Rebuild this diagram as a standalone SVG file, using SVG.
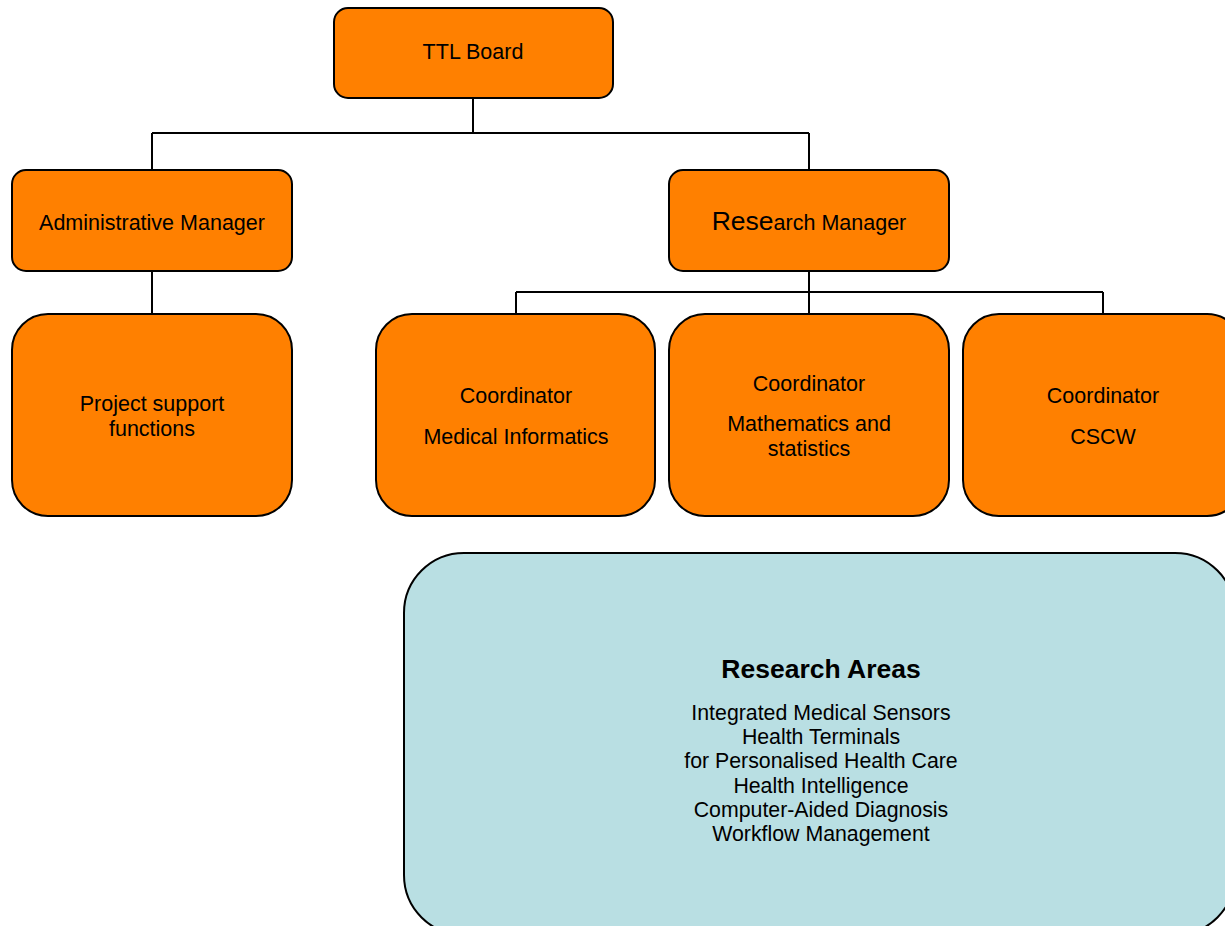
<svg xmlns="http://www.w3.org/2000/svg" width="1225" height="926" viewBox="0 0 1225 926">
<style>
.box{fill:#FF8000;stroke:#000;stroke-width:2}
.ra{fill:#B9DFE3;stroke:#000;stroke-width:2}
.t{font-family:"Liberation Sans",Arial,sans-serif;font-size:21.5px;fill:#000;text-anchor:middle}
.s{font-family:"Liberation Sans",Arial,sans-serif;font-size:21.3px;fill:#000;text-anchor:middle}
.h{font-family:"Liberation Sans",Arial,sans-serif;font-size:26.5px;font-weight:bold;fill:#000;text-anchor:middle}
.c{fill:none;stroke:#000;stroke-width:2}
</style>
<rect width="1225" height="926" fill="#fff"/>
<g id="connectors">
<path class="c" d="M473 98V133M152 133H809M152 133V170M809 133V170"/>
<path class="c" d="M152 271V314"/>
<path class="c" d="M809 271V314M516 292H1103M516 292V314M1103 292V314"/>
</g>
<g id="ttl-board">
<rect class="box" x="334" y="8" width="279" height="90" rx="14"/>
<text class="t" x="473" y="58.5">TTL Board</text>
</g>
<g id="admin-manager">
<rect class="box" x="12" y="170" width="280" height="101" rx="14"/>
<text class="t" x="152" y="229.5">Administrative Manager</text>
</g>
<g id="research-manager">
<rect class="box" x="669" y="170" width="280" height="101" rx="14"/>
<text class="t" x="809" y="229.5"><tspan font-size="26.5">Rese</tspan>arch Manager</text>
</g>
<g id="project-support">
<rect class="box" x="12" y="314" width="280" height="202" rx="36"/>
<text class="t" x="152" y="410.5">Project support</text>
<text class="t" x="152" y="435.5">functions</text>
</g>
<g id="coord-medical">
<rect class="box" x="376" y="314" width="279" height="202" rx="36"/>
<text class="t" x="516" y="402.5">Coordinator</text>
<text class="t" x="516" y="443.5">Medical Informatics</text>
</g>
<g id="coord-math">
<rect class="box" x="669" y="314" width="280" height="202" rx="36"/>
<text class="t" x="809" y="390.5">Coordinator</text>
<text class="t" x="809" y="430.5">Mathematics and</text>
<text class="t" x="809" y="455.5">statistics</text>
</g>
<g id="coord-cscw">
<rect class="box" x="963" y="314" width="280" height="202" rx="36"/>
<text class="t" x="1103" y="402.5">Coordinator</text>
<text class="t" x="1103" y="443.5">CSCW</text>
</g>
<g id="research-areas">
<rect class="ra" x="404" y="553" width="831" height="382" rx="60"/>
<text class="h" x="821" y="677.5">Research Areas</text>
<text class="s" x="821" y="719.5">Integrated Medical Sensors</text>
<text class="s" x="821" y="743.5">Health Terminals</text>
<text class="s" x="821" y="767.5">for Personalised Health Care</text>
<text class="s" x="821" y="792.5">Health Intelligence</text>
<text class="s" x="821" y="816.5">Computer-Aided Diagnosis</text>
<text class="s" x="821" y="840.5">Workflow Management</text>
</g>
</svg>
